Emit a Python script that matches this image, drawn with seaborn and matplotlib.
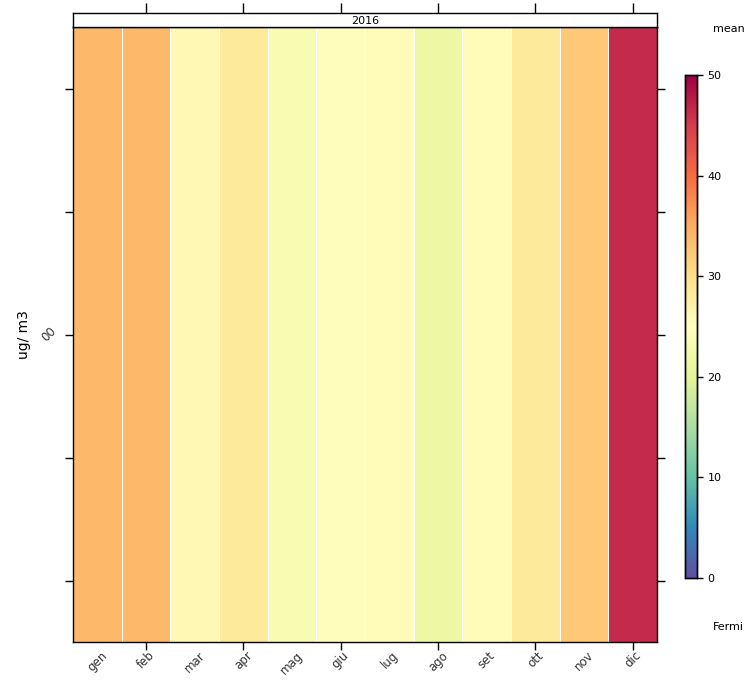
import numpy as np
import pandas as pd
import matplotlib
matplotlib.use("Agg")
import matplotlib.pyplot as plt
import seaborn as sns

months = ["gen", "feb", "mar", "apr", "mag", "giu", "lug", "ago", "set", "ott", "nov", "dic"]
hours = ["00"]
values = [33.9, 33.9, 26.1, 28.4, 23.4, 25.3, 25.5, 21.6, 25.4, 28.4, 32.4, 46.5]
year_label = "2016"
cbar_ticks = [0, 10, 20, 30, 40, 50]

df = pd.DataFrame([values], index=hours, columns=months)

fig = plt.figure(figsize=(7.49, 6.84), dpi=100)
W, H = 749, 684

def fx(x):
    return x / W

def fy(y):
    return 1 - y / H

ax = fig.add_axes([fx(73), fy(642), fx(657) - fx(73), fy(27) - fy(642)])
cax = fig.add_axes([fx(685), fy(578), fx(697) - fx(685), fy(75) - fy(578)])

sns.heatmap(df, ax=ax, cmap="Spectral_r", vmin=0, vmax=50, linewidths=0.7,
            linecolor="white", cbar_ax=cax, cbar_kws={"ticks": cbar_ticks})

for s in ax.spines.values():
    s.set_visible(True)
    s.set_color("black")
    s.set_linewidth(1.0)

# x ticks: labels at every month, marks at every other month
ax.xaxis.remove_overlapping_locs = False
ax.set_xticks(np.arange(len(months)) + 0.5)
ax.set_xticklabels(months, rotation=45, ha="center", va="top", fontsize=8.5, color="#333333")
ax.tick_params(axis="x", which="major", length=0, pad=5)
ax.set_xticks(np.arange(1, len(months), 2) + 0.5, minor=True)
ax.tick_params(axis="x", which="minor", length=6, width=1.0, direction="out", bottom=True, top=False)
ax.set_xlabel("")

# y ticks
ax.set_ylim(1, 0)
yt = [0.1, 0.3, 0.5, 0.7, 0.9]
ax.set_yticks(yt)
ax.set_yticklabels(["", "", hours[0], "", ""], rotation=45, fontsize=8.5, va="center", color="#333333")
ax.tick_params(axis="y", which="major", length=6, width=1.0, direction="out", left=True, right=True, pad=4)
ax.set_ylabel("ug/ m3", fontsize=10, labelpad=6)

# strip
sax = fig.add_axes([fx(73), fy(27), fx(657) - fx(73), fy(13) - fy(27)])
sax.set_xlim(0, 12)
sax.set_ylim(0, 1)
sax.set_yticks([])
sax.set_xticks(np.arange(1, len(months), 2) + 0.5)
sax.set_xticklabels([])
sax.tick_params(axis="x", bottom=False, top=True, length=7, width=1.0, direction="out")
sax.text(6, 0.45, year_label, ha="center", va="center", fontsize=8)
for s in sax.spines.values():
    s.set_color("black")
    s.set_linewidth(1.0)

# colorbar styling
cax.tick_params(labelsize=8, length=4, width=1.0, direction="out", right=True)
for s in cax.spines.values():
    s.set_visible(True)
    s.set_color("black")
    s.set_linewidth(1.0)

fig.text(fx(713), fy(29), "mean", fontsize=8, ha="left", va="center")
fig.text(fx(713), fy(627), "Fermi", fontsize=8, ha="left", va="center")

fig.savefig("out.png", dpi=100)
